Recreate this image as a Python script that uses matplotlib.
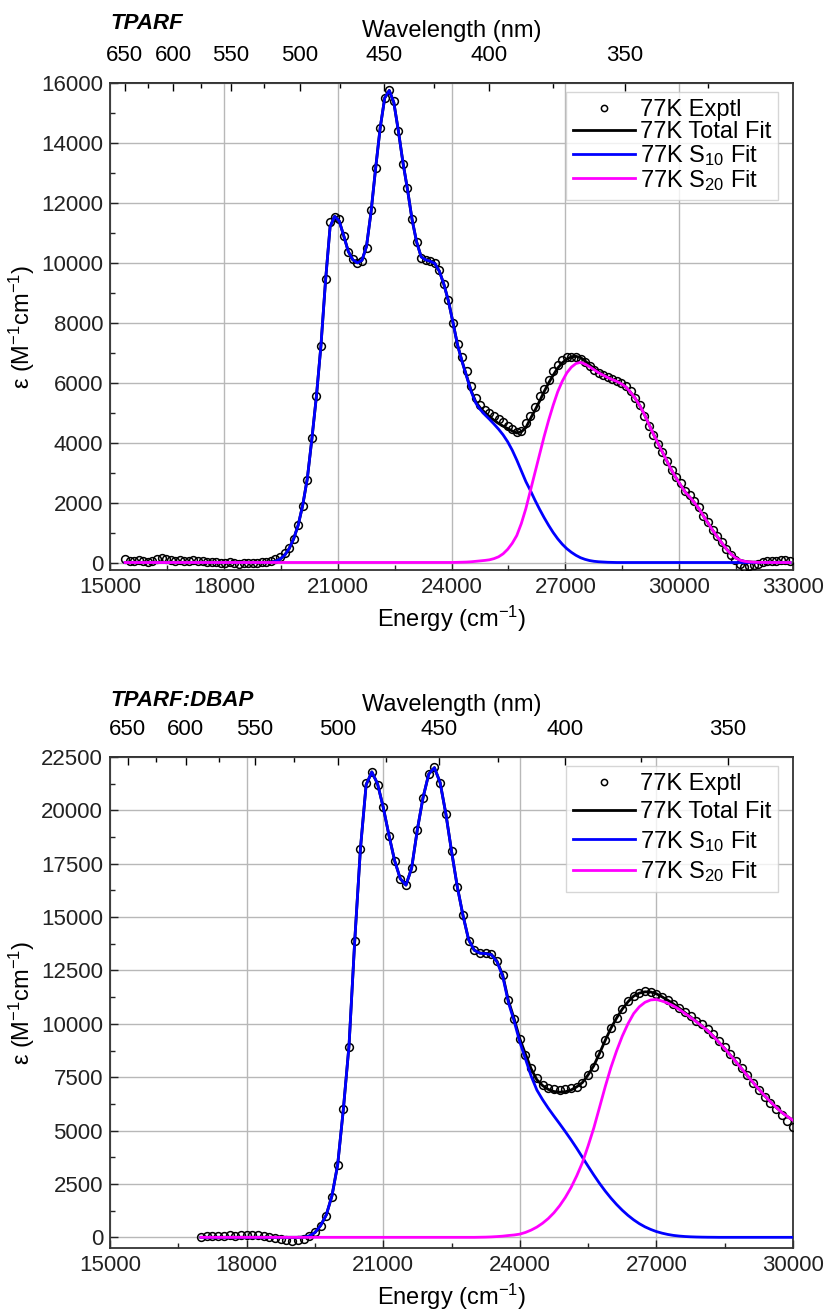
import numpy as np
import matplotlib.pyplot as plt
from matplotlib.ticker import MultipleLocator

plt.rcParams['font.family'] = ['Liberation Sans', 'DejaVu Sans']
plt.rcParams['mathtext.fontset'] = 'custom'
plt.rcParams['mathtext.rm'] = 'Liberation Sans'
plt.rcParams['mathtext.it'] = 'Liberation Sans:italic'

# ---- TPARF (77 K) ----
energia_tparf = np.arange(15400, 33000, 120)  # cm-1

exptl_tparf = [
    120, 60, 40, 80, 50, 20, 60, 130, 150, 110, 70, 60, 80, 40, 60, 70, 40, 50, 30, 20,
    30, 0, -20, 10, -30, -40, -20, -10, 0, -20, 10, 30, 60, 120, 200, 330, 500, 800, 1250, 1900,
    2750, 4150, 5550, 7240, 9450, 11350, 11520, 11450, 10900, 10350, 10120, 10000, 10060, 10500, 11750, 13150, 14500, 15500, 15780, 15400,
    14400, 13300, 12500, 11450, 10700, 10150, 10100, 10050, 10000, 9750, 9300, 8750, 8000, 7300, 6850, 6400, 5900, 5480, 5250, 5100,
    5000, 4900, 4780, 4680, 4560, 4450, 4350, 4400, 4650, 4900, 5200, 5550, 5800, 6100, 6400, 6600, 6750, 6850, 6870, 6860,
    6790, 6680, 6550, 6430, 6330, 6250, 6180, 6120, 6070, 6000, 5880, 5720, 5480, 5260, 4900, 4560, 4240, 3960, 3700, 3400,
    3090, 2850, 2650, 2400, 2260, 2060, 1850, 1550, 1340, 1090, 890, 680, 460, 260, 80, -50, -160, -120, -80, -40,
    20, 40, 60, 50, 80, 70, 60,
]

s10_tparf = [
    0, 0, 0, 0, 0, 0, 0, 0, 0, 0, 0, 0, 0, 0, 0, 0, 0, 0, 0, 0,
    0, 0, 0, 0, 0, 0, 0, 0, 0, 0, 0, 0, 10, 40, 110, 240, 460, 790, 1250, 1920,
    2800, 4120, 5550, 7250, 9400, 11200, 11550, 11400, 10900, 10380, 10100, 10000, 10080, 10550, 11700, 13150, 14500, 15500, 15750, 15350,
    14400, 13350, 12450, 11450, 10700, 10200, 10100, 10050, 9980, 9720, 9280, 8720, 8000, 7250, 6700, 6200, 5700, 5320, 5100, 4930,
    4780, 4620, 4450, 4260, 4030, 3750, 3420, 3060, 2700, 2400, 2080, 1780, 1500, 1240, 1000, 790, 610, 460, 340, 240,
    160, 105, 65, 40, 25, 15, 8, 4, 0, 0, 0, 0, 0, 0, 0, 0, 0, 0, 0, 0,
    0, 0, 0, 0, 0, 0, 0, 0, 0, 0, 0, 0, 0, 0, 0, 0, 0, 0, 0, 0,
    0, 0, 0, 0, 0, 0, 0,
]

s20_tparf = [
    0, 0, 0, 0, 0, 0, 0, 0, 0, 0, 0, 0, 0, 0, 0, 0, 0, 0, 0, 0,
    0, 0, 0, 0, 0, 0, 0, 0, 0, 0, 0, 0, 0, 0, 0, 0, 0, 0, 0, 0,
    0, 0, 0, 0, 0, 0, 0, 0, 0, 0, 0, 0, 0, 0, 0, 0, 0, 0, 0, 0,
    0, 0, 0, 0, 0, 0, 0, 0, 0, 0, 0, 0, 2, 5, 10, 15, 25, 40, 55, 70,
    90, 130, 190, 290, 440, 640, 900, 1300, 1800, 2400, 3000, 3600, 4200, 4750, 5250, 5700, 6050, 6330, 6520, 6640,
    6680, 6620, 6530, 6430, 6330, 6250, 6170, 6100, 6040, 5960, 5850, 5680, 5480, 5240, 4950, 4620, 4290, 3980, 3680, 3380,
    3080, 2820, 2580, 2350, 2180, 2000, 1800, 1550, 1320, 1080, 870, 660, 460, 290, 160, 80, 40, 20, 10, 5,
    2, 0, 0, 0, 0, 0, 0,
]

# ---- TPARF:DBAP (77 K) ----
energia_dbap = np.arange(17000, 30001, 125)  # cm-1

exptl_dbap = [
    30, 60, 40, 80, 50, 90, 70, 100, 120, 90, 110, 60, 30, -40, -90, -130, -150, -120, -60, 60,
    250, 550, 1000, 1900, 3400, 6000, 8900, 13900, 18200, 21300, 21800, 21200, 20150, 18800, 17650, 16800, 16500, 17300, 19100, 20600,
    21700, 22050, 21300, 19850, 18100, 16400, 15100, 13900, 13450, 13320, 13310, 13270, 12950, 12300, 11100, 10250, 9300, 8550, 7950, 7450,
    7150, 7000, 6950, 6920, 6950, 6980, 7050, 7250, 7600, 8000, 8600, 9250, 9800, 10280, 10700, 11050, 11320, 11460, 11520, 11490,
    11400, 11250, 11100, 10920, 10740, 10540, 10350, 10150, 9980, 9780, 9510, 9180, 8900, 8590, 8250, 7920, 7590, 7250, 6910, 6560,
    6280, 6010, 5740, 5470, 5180,
]

s10_dbap = [
    0, 0, 0, 0, 0, 0, 0, 0, 0, 0, 0, 0, 0, 0, 0, 0, 0, 0, 10, 60,
    220, 550, 1050, 1950, 3400, 6000, 9000, 13900, 18200, 21200, 21800, 21250, 20150, 18850, 17650, 16800, 16500, 17300, 19100, 20600,
    21700, 22000, 21300, 19850, 18100, 16450, 15100, 13950, 13450, 13310, 13290, 13240, 12900, 12230, 11000, 10130, 9150, 8350, 7550, 6900,
    6450, 6050, 5680, 5320, 4950, 4570, 4170, 3750, 3330, 2920, 2530, 2170, 1840, 1540, 1270, 1030, 820, 640, 490, 370,
    270, 195, 135, 90, 60, 38, 24, 15, 9, 5, 3, 0, 0, 0, 0, 0, 0, 0, 0, 0,
    0, 0, 0, 0, 0,
]

s20_dbap = [
    0, 0, 0, 0, 0, 0, 0, 0, 0, 0, 0, 0, 0, 0, 0, 0, 0, 0, 0, 0,
    0, 0, 0, 0, 0, 0, 0, 0, 0, 0, 0, 0, 0, 0, 0, 0, 0, 0, 0, 0,
    0, 0, 0, 0, 0, 0, 0, 0, 0, 5, 10, 20, 35, 55, 85, 110, 150, 230, 340, 480,
    660, 880, 1150, 1480, 1870, 2330, 2880, 3500, 4280, 5120, 6080, 7050, 7950, 8730, 9420, 10000, 10480, 10800, 11010, 11120,
    11140, 11070, 10970, 10840, 10680, 10490, 10300, 10100, 9900, 9680, 9420, 9130, 8840, 8530, 8210, 7890, 7570, 7250, 6940, 6640,
    6360, 6100, 5860, 5660, 5480,
]

wl_mayores = [650, 600, 550, 500, 450, 400, 350]
wl_menores = [625, 575, 525, 475, 425, 375, 325]


def nm_cm(x):
    x = np.array(x, dtype=float)
    x[np.isclose(x, 0)] = np.inf
    return 1e7 / x


def dibujar_panel(ax, energia, exptl, s10, s20, xmax, ymin, ymax, paso_y,
                  titulo, y_titulo, esp_leyenda):
    total = np.array(s10) + np.array(s20)
    ax.plot(energia, exptl, 'o', ms=5.6, mfc='none', mec='k', mew=1.1,
            label='77K Exptl', zorder=3)
    ax.plot(energia, total, color='k', lw=2, label='77K Total Fit', zorder=4)
    ax.plot(energia, s10, color='#0000ff', lw=2, label='77K S$_{10}$ Fit', zorder=5)
    ax.plot(energia, s20, color='#ff00ff', lw=2, label='77K S$_{20}$ Fit', zorder=6)

    ax.set_xlim(15000, xmax)
    ax.set_ylim(ymin, ymax)
    ax.xaxis.set_major_locator(MultipleLocator(3000))
    ax.xaxis.set_minor_locator(MultipleLocator(1500))
    ax.yaxis.set_major_locator(MultipleLocator(paso_y))
    ax.yaxis.set_minor_locator(MultipleLocator(paso_y / 2))
    ax.grid(True, which='major', color='#b8b8b8', lw=1)
    ax.set_axisbelow(True)
    ax.tick_params(which='both', direction='in', top=False, right=False,
                   labelsize=16, colors='#222222')
    ax.tick_params(axis='x', pad=5)
    ax.tick_params(axis='y', pad=5)
    ax.tick_params(which='major', length=6, width=1)
    ax.tick_params(which='minor', length=3.5, width=1)
    for s in ax.spines.values():
        s.set_linewidth(1.3)
        s.set_color('#333333')

    ax.set_xlabel('Energy (cm$^{-1}$)', fontsize=17, labelpad=4)
    ax.set_ylabel('ε (M$^{-1}$cm$^{-1}$)', fontsize=17, labelpad=3)

    secax = ax.secondary_xaxis('top', functions=(nm_cm, nm_cm))
    secax.set_xticks(wl_mayores)
    secax.set_xticks(wl_menores, minor=True)
    secax.tick_params(which='both', direction='in', labelsize=16, pad=12)
    secax.tick_params(which='major', length=6, width=1)
    secax.tick_params(which='minor', length=3.5, width=1)
    secax.spines['top'].set_linewidth(1.3)
    secax.spines['top'].set_color('#333333')
    secax.set_xlabel('Wavelength (nm)', fontsize=17, labelpad=6)

    ax.text(0.0, y_titulo, titulo, transform=ax.transAxes, fontsize=16,
            fontweight='bold', fontstyle='italic', ha='left', va='bottom')

    leg = ax.legend(loc='upper right', bbox_to_anchor=(0.978, 0.982),
                    borderaxespad=0, fontsize=17, frameon=True, fancybox=False,
                    edgecolor='#cccccc', handlelength=2.6, handletextpad=0.2,
                    labelspacing=esp_leyenda, borderpad=0.3, markerscale=0.8)
    leg.get_frame().set_linewidth(1)


fig = plt.figure(figsize=(8.25, 13.12), dpi=100)
ax1 = fig.add_axes([110 / 825, 1 - 570 / 1312, 683 / 825, 487 / 1312])
ax2 = fig.add_axes([110 / 825, 1 - 1248 / 1312, 683 / 825, 491 / 1312])

dibujar_panel(ax1, energia_tparf, exptl_tparf, s10_tparf, s20_tparf,
              33000, -250, 16000, 2000, 'TPARF', 1.100, 0.0)
dibujar_panel(ax2, energia_dbap, exptl_dbap, s10_dbap, s20_dbap,
              30000, -500, 22500, 2500, 'TPARF:DBAP', 1.094, 0.25)

fig.savefig('out.png', dpi=100)
